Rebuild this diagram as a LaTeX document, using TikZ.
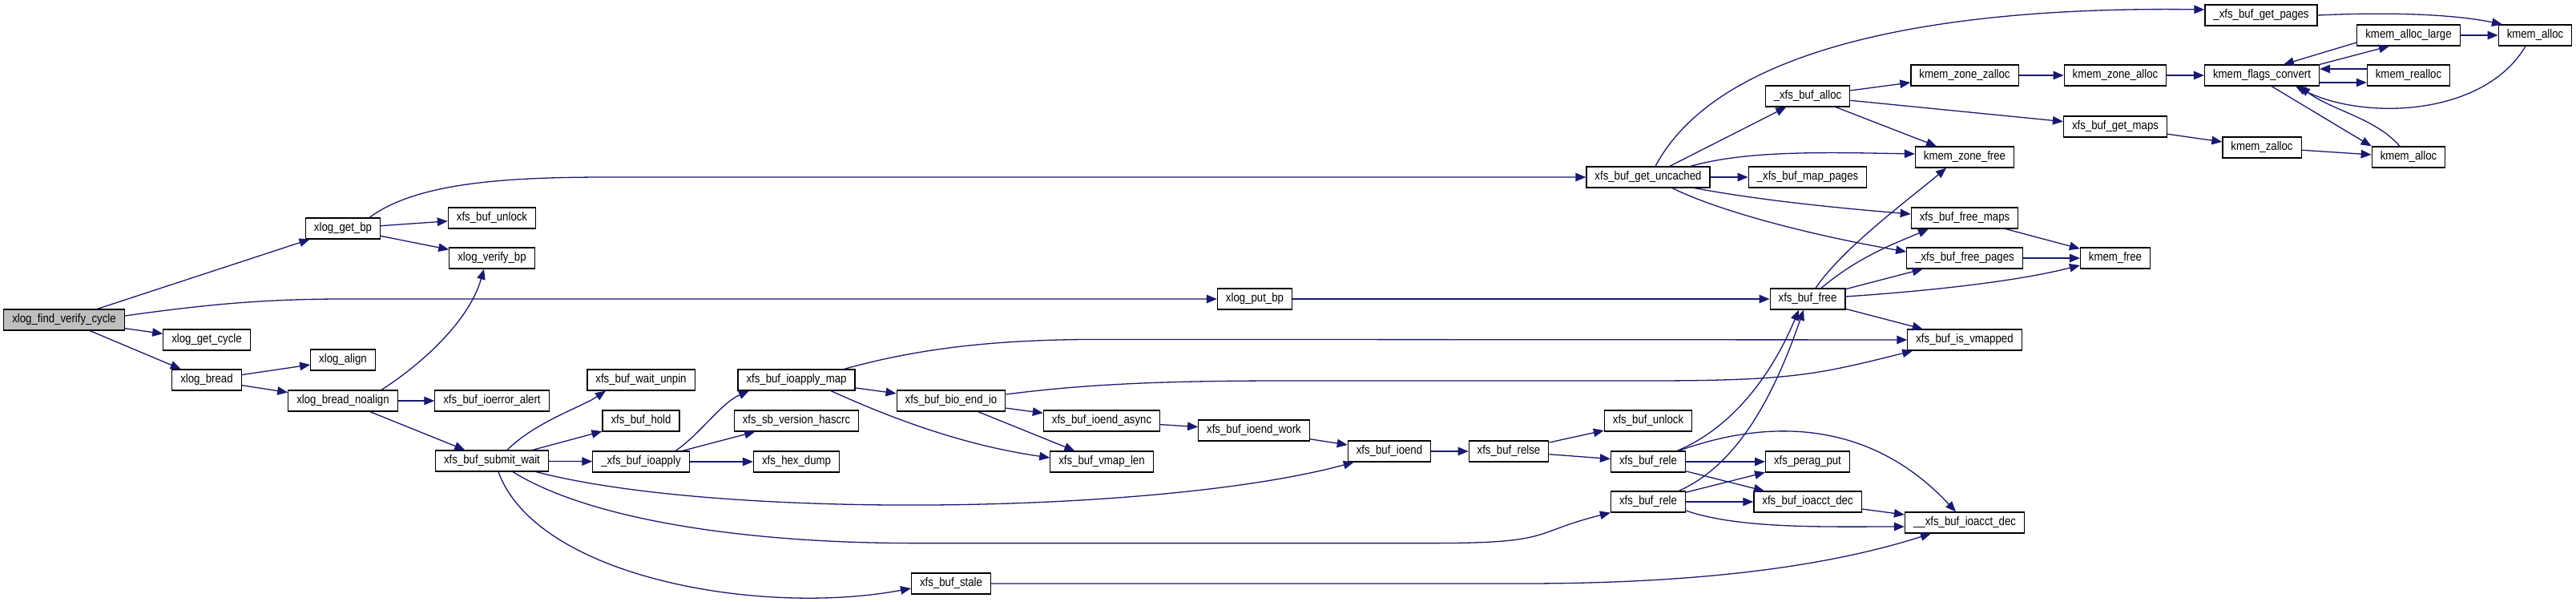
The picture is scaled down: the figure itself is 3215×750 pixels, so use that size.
\documentclass[tikz,border=0pt]{standalone}
\usepackage{fontspec}
\setmainfont{Liberation Sans}[FakeStretch=0.87]
\usetikzlibrary{arrows.meta}
\definecolor{cgedge}{HTML}{191970}
\definecolor{cgroot}{HTML}{BFBFBF}

\begin{document}
\begin{tikzpicture}[
  x=1pt, y=-1pt,
  font=\fontsize{15.2}{18}\selectfont,
  >={Triangle[length=13pt,width=10.5pt]},
  fn/.style={draw=black, fill=white, line width=1.2pt, minimum height=26pt,
    inner xsep=10.5pt, inner ysep=0pt, text height=11pt, text depth=3.5pt},
  root/.style={fn, fill=cgroot},
  call/.style={->, draw=cgedge, line width=1.3pt},
]
\useasboundingbox (0,0) rectangle (3215,750);

% functions, one column per call depth
\node[root] (fvc) at (80,399) {xlog\_find\_verify\_cycle};
\node[fn] (getbp) at (428,285) {xlog\_get\_bp};
\node[fn] (getcycle) at (258,424) {xlog\_get\_cycle};
\node[fn] (bread) at (258,474) {xlog\_bread};
\node[fn] (align) at (428,449) {xlog\_align};
\node[fn] (noalign) at (428,500) {xlog\_bread\_noalign};
\node[fn] (unlocka) at (614,272) {xfs\_buf\_unlock};
\node[fn] (verifybp) at (614,322) {xlog\_verify\_bp};
\node[fn] (ioerror) at (614,500) {xfs\_buf\_ioerror\_alert};
\node[fn] (submit) at (614,575) {xfs\_buf\_submit\_wait};
\node[fn] (unpin) at (800,474) {xfs\_buf\_wait\_unpin};
\node[fn] (hold) at (800,525) {xfs\_buf\_hold};
\node[fn] (ioapply) at (800,576) {\_xfs\_buf\_ioapply};
\node[fn] (iomap) at (994,474) {xfs\_buf\_ioapply\_map};
\node[fn] (hascrc) at (994,525) {xfs\_sb\_version\_hascrc};
\node[fn] (hexdump) at (994,576) {xfs\_hex\_dump};
\node[fn] (bioend) at (1187,500) {xfs\_buf\_bio\_end\_io};
\node[fn] (stale) at (1187,728) {xfs\_buf\_stale};
\node[fn] (async) at (1375,525) {xfs\_buf\_ioend\_async};
\node[fn] (vmaplen) at (1375,576) {xfs\_buf\_vmap\_len};
\node[fn] (putbp) at (1566,373) {xlog\_put\_bp};
\node[fn] (work) at (1565,537) {xfs\_buf\_ioend\_work};
\node[fn] (ioend) at (1734,563) {xfs\_buf\_ioend};
\node[fn] (relse) at (1883,563) {xfs\_buf\_relse};
\node[fn] (uncached) at (2057,221) {xfs\_buf\_get\_uncached};
\node[fn] (unlockb) at (2057,525) {xfs\_buf\_unlock};
\node[fn] (relea) at (2057,576) {xfs\_buf\_rele};
\node[fn] (releb) at (2057,626) {xfs\_buf\_rele};
\node[fn] (bufalloc) at (2256,120) {\_xfs\_buf\_alloc};
\node[fn] (mappages) at (2256,221) {\_xfs\_buf\_map\_pages};
\node[fn] (buffree) at (2256,373) {xfs\_buf\_free};
\node[fn] (peragput) at (2256,576) {xfs\_perag\_put};
\node[fn] (ioacct) at (2256,626) {xfs\_buf\_ioacct\_dec};
\node[fn] (zonezalloc) at (2452,94) {kmem\_zone\_zalloc};
\node[fn] (zonefree) at (2452,196) {kmem\_zone\_free};
\node[fn] (freemaps) at (2452,272) {xfs\_buf\_free\_maps};
\node[fn] (freepages) at (2452,322) {\_xfs\_buf\_free\_pages};
\node[fn] (isvmapped) at (2452,424) {xfs\_buf\_is\_vmapped};
\node[fn] (uioacct) at (2452,652) {\_\_xfs\_buf\_ioacct\_dec};
\node[fn] (zonealloc) at (2640,94) {kmem\_zone\_alloc};
\node[fn] (getmaps) at (2640,158) {xfs\_buf\_get\_maps};
\node[fn] (kmemfree) at (2640,322) {kmem\_free};
\node[fn] (getpages) at (2822,19) {\_xfs\_buf\_get\_pages};
\node[fn] (flags) at (2823,94) {kmem\_flags\_convert};
\node[fn] (kzalloc) at (2823,184) {kmem\_zalloc};
\node[fn] (alloclarge) at (3006,44) {kmem\_alloc\_large};
\node[fn] (realloc) at (3006,94) {kmem\_realloc};
\node[fn] (kallocb) at (3006,196) {kmem\_alloc};
\node[fn] (kalloca) at (3164,44) {kmem\_alloc};

% root
\draw[call] (fvc) -- (getbp);
\draw[call] ([yshift=5pt]fvc.east) .. controls +(100,-14) and +(-100,0) .. ([xshift=-1090pt]putbp.west) -- (putbp);
\draw[call] (fvc) -- (getcycle);
\draw[call] (fvc) -- (bread);
% xlog_get_bp
\draw[call] ([xshift=-14pt]getbp.north east) .. controls +(60,-45) and +(-120,0) .. ([xshift=-1220pt]uncached.west) -- (uncached);
\draw[call] (getbp) -- (unlocka);
\draw[call] (getbp) -- (verifybp);
% xlog_bread
\draw[call] (bread) -- (align);
\draw[call] (bread) -- (noalign);
\draw[call] ([xshift=-21pt]noalign.north east) .. controls +(40,-25) and +(-20,70) .. ([xshift=-10pt]verifybp.south);
\draw[call] (noalign) -- (ioerror);
\draw[call] (noalign) -- (submit);
% xfs_buf_submit_wait
\draw[call] ([xshift=19pt]submit.north) .. controls +(35,-35) and +(-30,20) .. ([xshift=-44pt]unpin.south);
\draw[call] (submit) -- (hold);
\draw[call] (submit) -- (ioapply);
\draw[call] ([xshift=-16pt]submit.south east) .. controls +(230,60) and +(-240,65) .. ([xshift=8pt]ioend.south west);
\draw[call] ([xshift=26pt]submit.south) .. controls +(100,62) and +(-200,0) .. ++(500,89) -- ++(650,0) .. controls +(150,0) and +(-100,25) .. (releb.south west);
\draw[call] ([xshift=8pt]submit.south) .. controls +(48,132) and +(-187,35) .. ([yshift=-6pt]stale.west);
% _xfs_buf_ioapply
\draw[call] ([xshift=43pt]ioapply.north) .. controls +(30,-20) and +(-35,15) .. ([xshift=-59pt]iomap.south);
\draw[call] (ioapply) -- (hascrc);
\draw[call] (ioapply) -- (hexdump);
% xfs_buf_ioapply_map
\draw[call] (iomap) -- (bioend);
\draw[call] ([xshift=43pt]iomap.south) .. controls +(73,33) and +(-111,-16) .. ([yshift=5pt]vmaplen.west);
\draw[call] ([xshift=-14pt]iomap.north east) .. controls +(100,-28) and +(-120,0) .. ++(320,-37) -- (isvmapped);
% xfs_buf_bio_end_io
\draw[call] (bioend) -- (async);
\draw[call] (bioend) -- (vmaplen);
\draw[call] ([yshift=8pt]bioend.east) .. controls +(100,-13) and +(-150,0) .. ++(350,-17) -- ++(450,0) .. controls +(180,0) and +(-120,30) .. ([xshift=7pt]isvmapped.south west);
% ioend chain
\draw[call] (async) -- (work);
\draw[call] (work) -- (ioend);
\draw[call] (ioend) -- (relse);
\draw[call] (relse) -- (unlockb);
\draw[call] (relse) -- (relea);
% xfs_buf_rele
\draw[call] ([xshift=-11pt]relea.north east) .. controls +(67,-28) and +(-35,84) .. ([xshift=-11pt]buffree.south);
\draw[call] ([xshift=-9pt]relea.north east) .. controls +(105,-38) and +(-111,-119) .. ([xshift=-11pt]uioacct.north);
\draw[call] (relea) -- (peragput);
\draw[call] (relea) -- (ioacct);
\draw[call] ([xshift=-9pt]releb.north east) .. controls +(75,-33) and +(-36,104) .. ([xshift=-5pt]buffree.south);
\draw[call] (releb) -- (peragput);
\draw[call] (releb) -- (ioacct);
\draw[call] ([yshift=-11pt]releb.east) .. controls +(66,23) and +(-97,0) .. ([yshift=-5pt]uioacct.west);
\draw[call] (ioacct) -- (uioacct);
\draw[call] (stale.east) -- ++(663,0) .. controls +(250,0) and +(-110,35) .. ([xshift=-42pt]uioacct.south);
% xlog_put_bp
\draw[call] (putbp) -- (buffree);
% xfs_buf_free
\draw[call] (buffree) -- (isvmapped);
\draw[call] ([xshift=10pt]buffree.north) .. controls +(34,-50) and +(-49,41) .. ([xshift=-23pt]zonefree.south);
\draw[call] ([xshift=17pt]buffree.north) .. controls +(47,-40) and +(-37,16) .. ([xshift=-45pt]freemaps.south);
\draw[call] (buffree) -- (freepages);
\draw[call] ([yshift=3pt]buffree.east) .. controls +(117,-8) and +(-75,19) .. ([yshift=-9pt]kmemfree.west);
% xfs_buf_get_uncached
\draw[call] (uncached) -- (bufalloc);
\draw[call] ([xshift=9pt]uncached.north) .. controls +(84,-158) and +(-303,-4) .. ([yshift=7pt]getpages.west);
\draw[call] ([xshift=53pt]uncached.north) .. controls +(70,-20) and +(-111,-2) .. ([yshift=4pt]zonefree.west);
\draw[call] (uncached) -- (mappages);
\draw[call] ([xshift=-20pt]uncached.south east) .. controls +(86,16) and +(-85,-7) .. ([yshift=5pt]freemaps.west);
\draw[call] ([xshift=30pt]uncached.south) .. controls +(63,31) and +(-110,-19) .. ([yshift=8pt]freepages.west);
% _xfs_buf_alloc and below
\draw[call] (bufalloc) -- (zonezalloc);
\draw[call] (bufalloc) -- (getmaps);
\draw[call] (bufalloc) -- (zonefree);
\draw[call] (zonezalloc) -- (zonealloc);
\draw[call] (zonealloc) -- (flags);
\draw[call] (getmaps) -- (kzalloc);
\draw[call] (kzalloc) -- (kallocb);
\draw[call] (freemaps) -- (kmemfree);
\draw[call] (freepages) -- (kmemfree);
% kmem
\draw[call] (getpages.east) .. controls +(88,-4) and +(-63,-13) .. ([xshift=-41pt]kalloca.north);
\draw[call] (alloclarge) -- (kalloca);
\draw[call] ([yshift=-9pt]alloclarge.west) -- ([xshift=27pt]flags.north);
\draw[call] (flags.north east) -- ([xshift=-24pt]alloclarge.south);
\draw[call] ([yshift=8pt]realloc.west) -- ([yshift=8pt]flags.east);
\draw[call] ([yshift=-9pt]flags.east) -- ([yshift=-9pt]realloc.west);
\draw[call] ([xshift=-12pt]kalloca.south) .. controls +(-52,88) and +(85,43) .. ([xshift=42pt]flags.south);
\draw[call] ([xshift=12pt]flags.south) -- (kallocb.north west);
\draw[call] ([xshift=-11pt]kallocb.north) .. controls +(-30,-35) and +(40,30) .. ([xshift=47pt]flags.south);
\end{tikzpicture}
\end{document}
